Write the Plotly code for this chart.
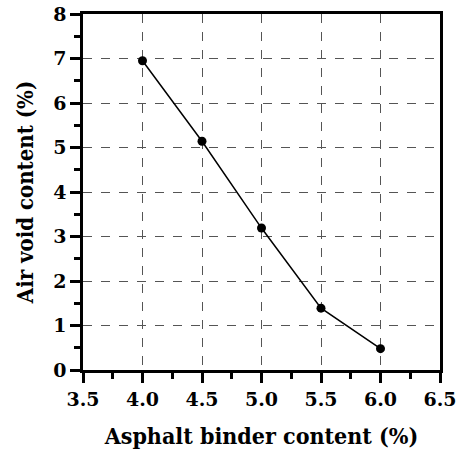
import plotly.graph_objects as go

binder = [4.0, 4.5, 5.0, 5.5, 6.0]
air_voids = [6.95, 5.14, 3.19, 1.39, 0.48]
x_ticks = [3.5, 4.0, 4.5, 5.0, 5.5, 6.0, 6.5]
x_tick_labels = ["3.5", "4.0", "4.5", "5.0", "5.5", "6.0", "6.5"]
y_ticks = [0, 1, 2, 3, 4, 5, 6, 7, 8]

FONT = "DejaVu Serif"

fig = go.Figure()
fig.add_trace(go.Scatter(
    x=binder, y=air_voids, mode="lines+markers",
    line=dict(color="black", width=1.5),
    marker=dict(color="black", size=9),
    showlegend=False,
))

axis_common = dict(
    showline=True, linecolor="black", linewidth=2.5, mirror=True,
    ticks="outside", tickcolor="black", tickwidth=2.5, ticklen=10,
    showgrid=True, gridcolor="#555555", gridwidth=1.2, griddash="dash",
    zeroline=False, automargin=False, ticklabeloverflow="allow",
    tickfont=dict(family=FONT, size=19, color="black", weight="bold"),
)

fig.update_xaxes(
    range=[3.5, 6.5], tickvals=x_ticks, ticktext=x_tick_labels,
    minor=dict(dtick=0.25, ticks="outside", ticklen=6, tickwidth=2.5, tickcolor="black", showgrid=False),
    title=dict(text="Asphalt binder content (%)", font=dict(family="DejaVu Serif Condensed", size=23, color="black", weight="bold"), standoff=20),
    **axis_common,
)
fig.update_yaxes(
    range=[0, 8], tickvals=y_ticks,
    minor=dict(dtick=0.5, ticks="outside", ticklen=6, tickwidth=2.5, tickcolor="black", showgrid=False),
    title=dict(text="Air void content (%)", font=dict(family="DejaVu Serif Condensed", size=22, color="black", weight="bold"), standoff=14),
    **axis_common,
)

fig.update_layout(
    width=456, height=458,
    margin=dict(l=83, r=16, t=14, b=88),
    paper_bgcolor="white", plot_bgcolor="white",
    font=dict(family=FONT),
)

fig.write_html("out.html")
